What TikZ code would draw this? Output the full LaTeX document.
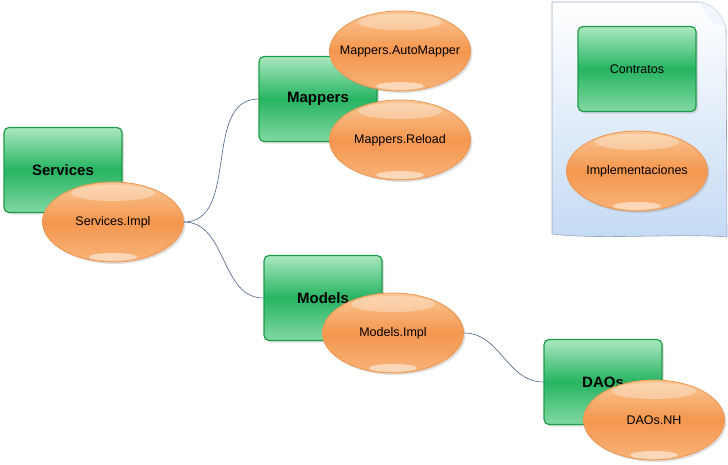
\documentclass[tikz,border=0pt]{standalone}
\usepackage{fontspec}
\setmainfont{Liberation Sans}
\usetikzlibrary{shapes.geometric,shadows}
\definecolor{boxgreen}{RGB}{38,180,98}
\definecolor{boxgreenlight}{RGB}{170,232,190}
\definecolor{boxborder}{RGB}{30,155,70}
\definecolor{ovalorange}{RGB}{244,150,78}
\definecolor{ovallight}{RGB}{250,200,150}
\definecolor{ovalborder}{RGB}{238,150,80}
\definecolor{linkblue}{RGB}{70,100,140}
\definecolor{paperblue}{RGB}{196,218,244}
\definecolor{paperedge}{RGB}{150,165,190}

\begin{document}
\begin{tikzpicture}[x=1pt, y=-1pt,
  modbox/.style={draw=boxborder, line width=1.2pt, rounded corners=5pt,
    minimum width=118pt, minimum height=85pt,
    top color=boxgreenlight, bottom color=boxgreenlight!70!boxgreen, middle color=boxgreen,
    drop shadow={opacity=.25, shadow xshift=2pt, shadow yshift=-2pt},
    font=\fontsize{15}{17}\selectfont\bfseries},
  implov/.style={ellipse, draw=ovalborder, line width=.8pt,
    minimum width=141pt, minimum height=80pt, inner xsep=-20pt, inner ysep=0pt,
    top color=ovallight, bottom color=ovallight!60!ovalorange, middle color=ovalorange,
    drop shadow={opacity=.25, shadow xshift=2pt, shadow yshift=-2pt},
    path picture={
      \fill[white, opacity=.3] ([yshift=-11pt]path picture bounding box.north)
        ellipse [x radius=42pt, y radius=8pt];
      \fill[white, opacity=.5] ([yshift=5pt]path picture bounding box.south)
        ellipse [x radius=24pt, y radius=4pt];},
    font=\fontsize{12.5}{14}\selectfont},
  link/.style={linkblue, line width=.6pt}]
  \useasboundingbox (0,0) rectangle (728,464);

  % Legend sheet at top right
  \draw[paperedge, line width=.6pt, top color=white, bottom color=paperblue]
    (552,2) -- (700,2) .. controls (712,4) and (722,14) .. (726,28)
    -- (727,237) .. controls (680,233) and (600,240) .. (552,234) -- cycle;
  \fill[white!75!paperblue] (700,2) .. controls (712,4) and (722,14) .. (726,28)
    .. controls (714,25) and (703,15) .. (700,2);
  \node[modbox, font=\fontsize{12.5}{14}\selectfont] (contratos) at (637,69) {Contratos};
  \node[implov] (impls) at (637,171) {Implementaciones};

  % Services
  \node[modbox] (services) at (63,170) {Services};
  \node[implov] (srvimpl) at (113,222) {Services.Impl};

  % Mappers
  \node[modbox] (mappers) at (318,99) {Mappers};
  \node[implov] (automapper) at (400,51) {Mappers.AutoMapper};
  \node[implov] (reload) at (400,140) {Mappers.Reload};

  % Models
  \node[modbox] (models) at (323,298) {Models};
  \node[implov] (modimpl) at (393,333) {Models.Impl};

  % DAOs
  \node[modbox] (daos) at (603,382) {DAOs};
  \node[implov] (daosnh) at (654,420) {DAOs.NH};

  % Links
  \draw[link] (srvimpl.east) to[out=0, in=180] (mappers.west);
  \draw[link] (srvimpl.east) to[out=0, in=180] (models.west);
  \draw[link] (modimpl.east) to[out=0, in=180] (daos.west);
\end{tikzpicture}
\end{document}
